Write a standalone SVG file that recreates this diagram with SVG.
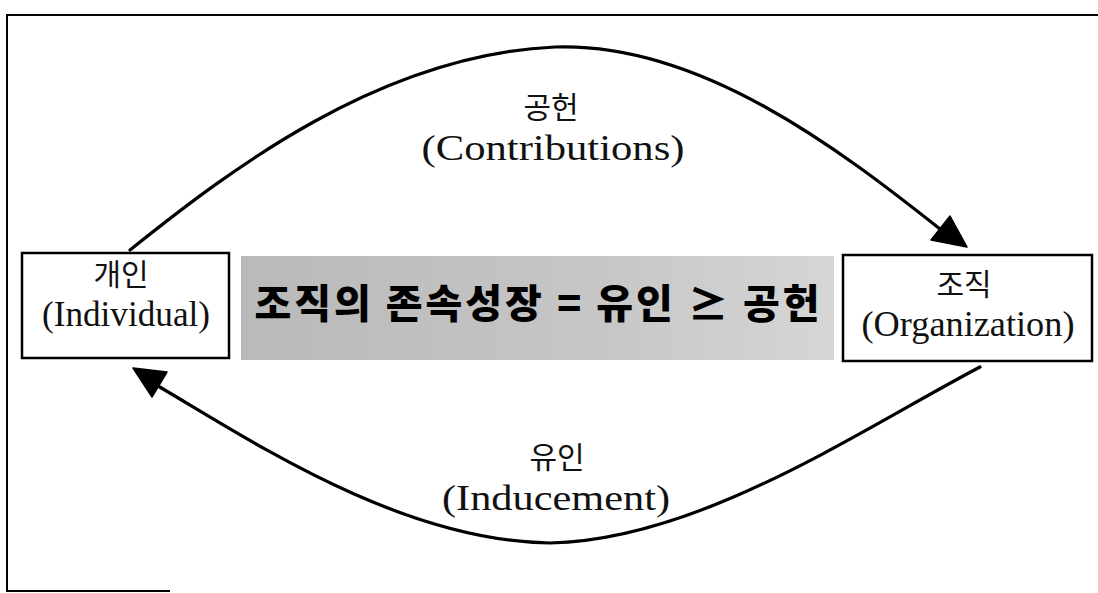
<svg xmlns="http://www.w3.org/2000/svg" width="1098" height="593" viewBox="0 0 1098 593">
<style>
.frame{fill:none;stroke:#000;stroke-width:2}
.box{fill:#fff;stroke:#000;stroke-width:2.5}
.arc{fill:none;stroke:#000;stroke-width:3.2;stroke-linecap:round}
.head{fill:#000;stroke:#000;stroke-width:1.5;stroke-linejoin:round}
.ko{font-family:"Noto Sans CJK KR",sans-serif;font-size:30px;fill:#111;text-anchor:middle}
.en{font-family:"Liberation Serif",serif;font-size:36px;fill:#111;text-anchor:middle}
.eq{font-family:"Noto Sans CJK KR",sans-serif;font-size:40px;font-weight:900;fill:#000;text-anchor:middle}
</style>
<defs>
<linearGradient id="gr" x1="0" y1="0" x2="1" y2="0">
<stop offset="0" stop-color="#b9b9b9"/>
<stop offset="0.6" stop-color="#c6c6c6"/>
<stop offset="1" stop-color="#d6d6d6"/>
</linearGradient>
</defs>
<rect width="1098" height="593" fill="#fff"/>
<path class="frame" d="M1098,15 L7,15 L7,591 L170,591"/>
<g id="connectors">
<path class="arc" d="M130,250 C230,170 380,55 555,47 C700,42 840,150 940,229"/>
<polygon class="head" points="967,247 950,216 931,240"/>
<path class="arc" d="M980,367 C860,430 700,540 550,543 C400,541 250,440 158,386"/>
<polygon class="head" points="133,368 167,372 152,397"/>
</g>
<g id="condition">
<rect x="241" y="256" width="593" height="104" fill="url(#gr)"/>
<text class="eq" x="537" y="318" textLength="565" lengthAdjust="spacing">조직의 존속성장 = 유인 ≥ 공헌</text>
</g>
<g id="individual">
<rect class="box" x="22" y="253" width="207" height="105"/>
<text class="ko" x="121" y="285">개인</text>
<text class="en" x="126" y="326" textLength="168" lengthAdjust="spacingAndGlyphs">(Individual)</text>
</g>
<g id="organization">
<rect class="box" x="843" y="255" width="249" height="106"/>
<text class="ko" x="964" y="295">조직</text>
<text class="en" x="968" y="336" textLength="213" lengthAdjust="spacingAndGlyphs">(Organization)</text>
</g>
<g id="contributions-label">
<text class="ko" x="551" y="118">공헌</text>
<text class="en" x="553" y="160" textLength="263" lengthAdjust="spacingAndGlyphs">(Contributions)</text>
</g>
<g id="inducement-label">
<text class="ko" x="557" y="468">유인</text>
<text class="en" x="556" y="510" textLength="228" lengthAdjust="spacingAndGlyphs">(Inducement)</text>
</g>
</svg>
